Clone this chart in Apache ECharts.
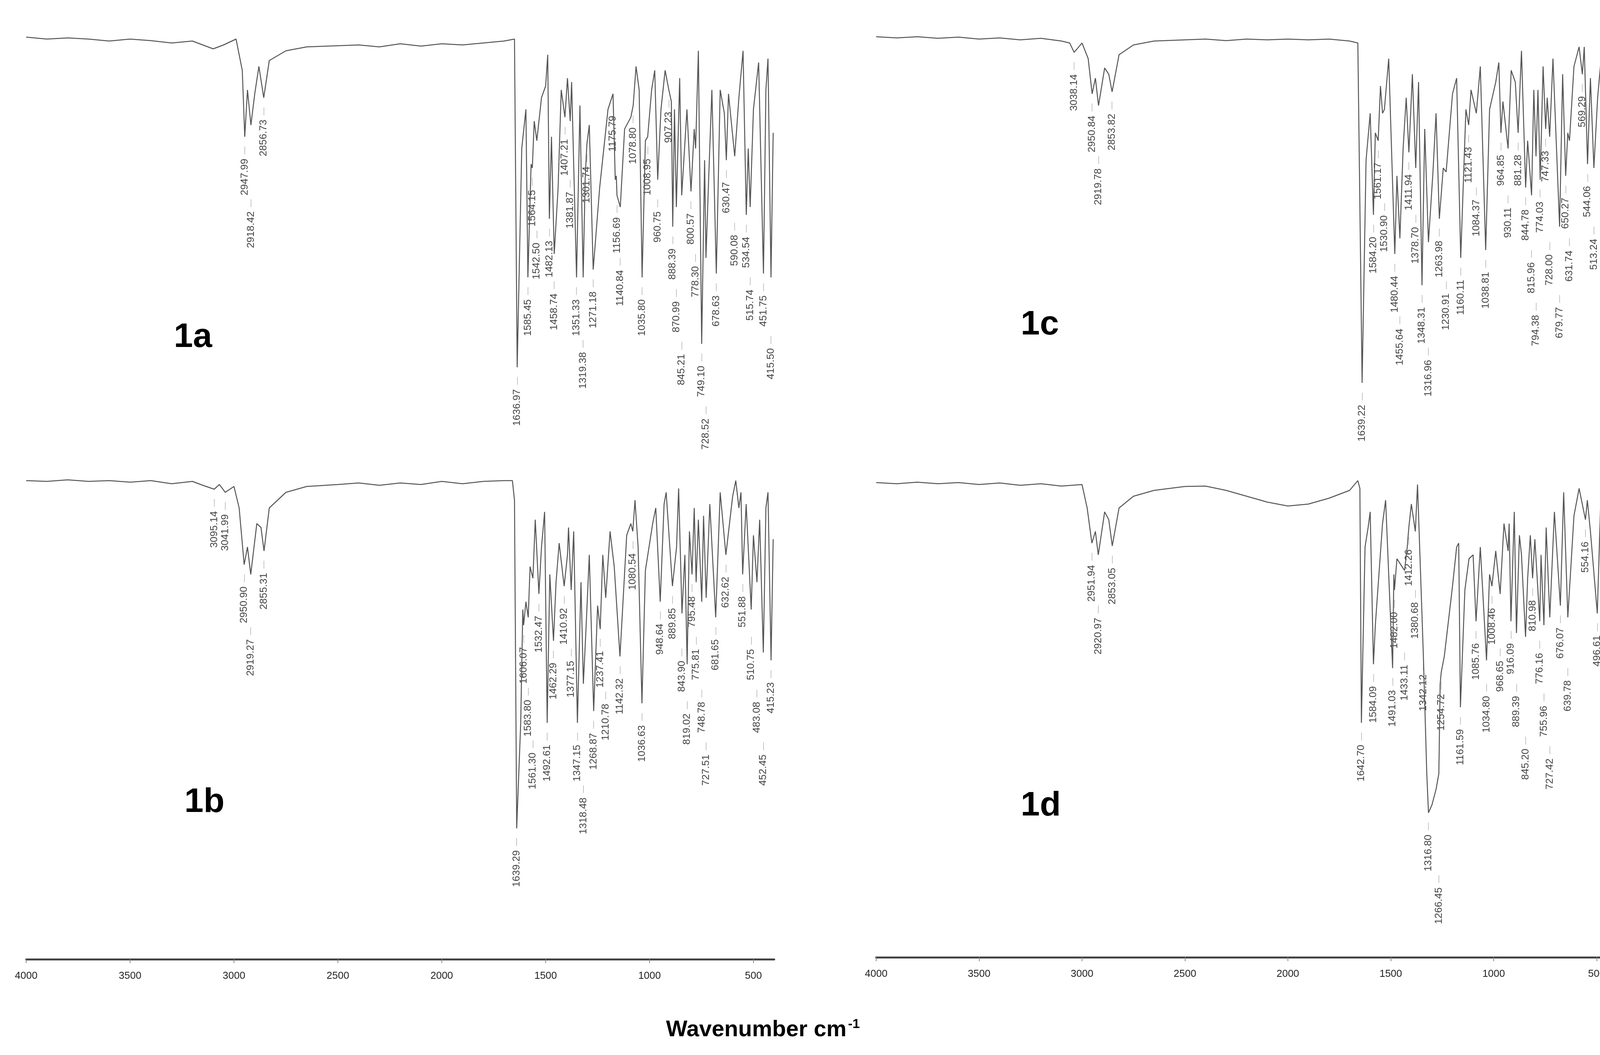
<!DOCTYPE html>
<html><head><meta charset="utf-8">
<script src="https://cdn.jsdelivr.net/npm/echarts@6/dist/echarts.min.js"></script>
<style>html,body{margin:0;padding:0;background:#fff}#c{width:4175px;height:2700px}</style>
</head><body><div id="c"></div>
<script>
// Tick labels of the wavenumber axes
const tickValues = [500, 1000, 1500, 2000, 2500, 3000, 3500, 4000];
const panelNames = ['1a', '1b', '1c', '1d'];

// Spectrum 1a: [wavenumber, transmittance-like %]
const spec1a = [[4000,98.5],[3900,98],[3800,98.3],[3700,98],[3600,97.5],[3500,98],[3400,97.6],[3300,97],[3200,97.5],[3150,96.5],[3100,95.5],[3050,96.5],[2990,98],[2960,90],[2947.99,73],[2935,85],[2918.42,76],[2900,84],[2880,91],[2856.73,83],[2830,92.5],[2750,95],[2650,96],[2500,96.3],[2400,96.5],[2300,96],[2200,96.8],[2100,96.2],[2000,96.8],[1900,96.5],[1800,97],[1700,97.5],[1650,98],[1636.97,14],[1615,70],[1595,80],[1585.45,37],[1570,66],[1564.15,65],[1555,77],[1542.5,72],[1520,83],[1500,86],[1490,94],[1482.13,52],[1472,73],[1458.74,43],[1440,60],[1425,85],[1407.21,78],[1395,88],[1381.87,77],[1375,87],[1351.33,37],[1335,81],[1319.38,37],[1310,62],[1301.74,71],[1290,76],[1271.18,39],[1240,60],[1200,80],[1175.79,84],[1165,62],[1160,63],[1156.69,58],[1140.84,55],[1120,75],[1090,78],[1078.8,81],[1065,91],[1050,85],[1035.8,37],[1020,72],[1008.95,73],[990,85],[975,90],[960.75,62],[945,80],[925,90],[907.23,85],[895,82],[888.39,50],[880,80],[870.99,55],[855,88],[845.21,58],[820,80],[800.57,59],[785,75],[778.3,70],[765,95],[749.1,20],[735,67],[728.52,42],[715,63],[700,85],[678.63,38],[660,85],[640,79],[630.47,67],[620,84],[590.08,68],[570,83],[550,95],[534.54,53],[525,70],[515.74,55],[500,80],[475,92],[451.75,38],[440,85],[430,93],[415.5,37],[405,74]];
const peaks1a = ['2947.99','2918.42','2856.73','1636.97','1585.45','1564.15','1542.50','1482.13','1458.74','1407.21','1381.87','1351.33','1319.38','1301.74','1271.18','1175.79','1156.69','1140.84','1078.80','1035.80','1008.95','960.75','907.23','888.39','870.99','845.21','800.57','778.30','749.10','728.52','678.63','630.47','590.08','534.54','515.74','451.75','415.50'];

// Spectrum 1b
const spec1b = [[4000,97],[3900,96.8],[3800,97.2],[3700,96.8],[3600,97],[3500,96.6],[3400,97],[3300,96.2],[3200,96.8],[3150,95.8],[3095.14,94.8],[3070,96],[3041.99,94],[3000,95.5],[2975,90],[2950.9,75.5],[2935,80],[2919.27,73],[2890,86],[2870,85],[2855.31,79],[2830,90],[2750,94],[2650,95.5],[2500,96],[2400,96.4],[2300,95.8],[2200,96.4],[2100,96],[2000,96.8],[1900,96.2],[1800,96.8],[1700,97],[1660,97],[1650,92],[1639.29,8],[1620,35],[1610,64],[1606.07,60],[1595,66],[1583.8,62],[1575,75],[1561.3,72],[1550,87],[1532.47,68],[1520,80],[1505,89],[1492.61,35],[1480,73],[1462.29,56],[1450,71],[1435,81],[1410.92,70],[1395,78],[1390,85],[1377.15,69],[1365,84],[1347.15,35],[1330,71],[1318.48,45],[1305,60],[1290,78],[1268.87,38],[1250,65],[1237.41,59],[1225,78],[1210.78,67],[1190,84],[1170,75],[1142.32,52],[1110,83],[1090,86],[1080.54,84],[1070,92],[1055,80],[1036.63,40],[1020,74],[985,86],[970,90],[948.64,66],[930,91],[920,94],[889.85,70],[870,80],[860,95],[843.9,63],[830,78],[819.02,50],[808,84],[795.48,73],[785,90],[775.81,71],[765,87],[748.78,66],[740,88],[727.51,67],[710,91],[681.65,62],[660,94],[632.62,78],[600,93],[585,97],[570,90],[560,94],[551.88,73],[535,91],[510.75,64],[500,83],[483.08,71],[470,87],[452.45,53],[440,90],[430,94],[415.23,51],[405,82]];
const peaks1b = ['3095.14','3041.99','2950.90','2919.27','2855.31','1639.29','1606.07','1583.80','1561.30','1532.47','1492.61','1462.29','1410.92','1377.15','1347.15','1318.48','1268.87','1237.41','1210.78','1142.32','1080.54','1036.63','948.64','889.85','843.90','819.02','795.48','775.81','748.78','727.51','681.65','632.62','551.88','510.75','483.08','452.45','415.23'];

// Spectrum 1c
const spec1c = [[4000,98.6],[3900,98.3],[3800,98.6],[3700,98.2],[3600,98.5],[3500,98],[3400,98.3],[3300,97.8],[3200,98.2],[3100,97.5],[3060,97],[3038.14,94.6],[3000,97],[2970,93],[2950.84,84],[2935,88],[2919.78,81],[2890,90.6],[2870,89],[2853.82,84.5],[2820,94],[2750,96.5],[2650,97.5],[2500,97.8],[2400,98],[2300,97.6],[2200,98],[2100,97.8],[2000,98],[1900,97.8],[1800,98],[1700,97.5],[1660,97],[1639.22,10],[1620,67],[1600,79],[1584.2,53],[1575,74],[1561.17,72],[1550,86],[1540,79],[1530.9,80],[1510,93],[1480.44,43],[1470,63],[1455.64,47],[1440,70],[1425,83],[1411.94,69],[1395,89],[1378.7,65],[1365,87],[1348.31,35],[1335,75],[1316.96,46],[1295,64],[1280,79],[1263.98,52],[1245,65],[1230.91,64],[1200,84],[1180,88],[1160.11,42],[1135,80],[1121.43,76],[1110,85],[1084.37,79],[1065,91],[1038.81,44],[1020,80],[990,87],[975,92],[964.85,74],[955,82],[930.11,70],[915,90],[895,87],[881.28,74],[865,95],[844.78,60],[835,72],[815.96,58],[805,85],[794.38,68],[785,85],[774.03,62],[760,91],[747.33,75],[740,83],[728,73],[712,93],[679.77,50],[665,89],[650.27,63],[640,74],[631.74,72],[610,91],[585,96],[569.29,89],[560,96],[544.06,66],[530,88],[513.24,65],[495,83],[475,95],[452.73,53],[440,95],[415.59,53],[408,65]];
const peaks1c = ['3038.14','2950.84','2919.78','2853.82','1639.22','1584.20','1561.17','1530.90','1480.44','1455.64','1411.94','1378.70','1348.31','1316.96','1263.98','1230.91','1160.11','1121.43','1084.37','1038.81','964.85','930.11','881.28','844.78','815.96','794.38','774.03','747.33','728.00','679.77','650.27','631.74','569.29','544.06','513.24','452.73','415.59'];

// Spectrum 1d
const spec1d = [[4000,96.5],[3900,96.2],[3800,96.6],[3700,96.2],[3600,96.5],[3500,96],[3400,96.4],[3300,95.8],[3200,96.2],[3100,95.6],[3000,96],[2975,90],[2951.94,81],[2935,84],[2920.97,78],[2890,89],[2870,87],[2853.05,80.3],[2820,90],[2750,93],[2650,94.5],[2500,95.5],[2400,95.6],[2300,94.5],[2200,93],[2100,91.5],[2000,90.5],[1900,91],[1800,92.5],[1700,94.5],[1660,97],[1650,95],[1642.7,35],[1625,80],[1610,85],[1600,89],[1584.09,50],[1575,60],[1540,86],[1525,92],[1491.03,49],[1485,73],[1482,69],[1470,77],[1433.11,74],[1420,80],[1412.26,85],[1400,91],[1380.68,84],[1370,96],[1342.12,53],[1325,22],[1316.8,12],[1300,14],[1280,18],[1266.45,22],[1260,45],[1254.72,48],[1240,52],[1200,70],[1180,80],[1170,81],[1161.59,39],[1140,69],[1120,77],[1100,78],[1085.76,61],[1065,80],[1034.8,51],[1020,73],[1008.46,70],[990,79],[968.65,68],[950,86],[930,79],[925,86],[916.09,61],[900,89],[889.39,58],[875,83],[865,78],[845.2,57],[835,72],[822,83],[810.98,72],[800,82],[776.16,61],[770,78],[755.96,60],[745,85],[727.42,62],[705,89],[676.07,65],[660,94],[639.78,62],[610,88],[585,95],[554.16,87],[545,92],[530,84],[496.61,63],[480,92],[452.83,62],[440,96],[416.08,62],[405,86]];
const peaks1d = ['2951.94','2920.97','2853.05','1642.70','1584.09','1491.03','1482.00','1433.11','1412.26','1380.68','1342.12','1316.80','1266.45','1254.72','1161.59','1085.76','1034.80','1008.46','968.65','916.09','889.39','845.20','810.98','776.16','755.96','727.42','676.07','639.78','554.16','496.61','452.83','416.08'];

const chart = echarts.init(document.getElementById('c'), null, {renderer: 'canvas'});
const FONT = '"Liberation Sans Narrow","Liberation Sans",Arial,sans-serif';

function valueAt(spec, wn) {
  let best = spec[0], d = 1e9;
  for (const p of spec) { const dd = Math.abs(p[0] - wn); if (dd < d) { d = dd; best = p; } }
  return best[1];
}
// Stagger labels downward so neighbouring peak labels do not collide
const LABEL_LEN = 12.5, LABEL_GAP = 52;
function placeLabels(spec, pk) {
  const placed = [];
  pk.forEach(p => {
    const wn = parseFloat(p);
    let y = valueAt(spec, wn) - 2.5;
    let moved = true;
    while (moved) {
      moved = false;
      for (const q of placed) {
        if (Math.abs(q[0] - wn) < LABEL_GAP && y > q[1] - LABEL_LEN - 0.5 && y - LABEL_LEN < q[1] + 0.5) {
          y = q[1] - LABEL_LEN - 1; moved = true;
        }
      }
    }
    placed.push([wn, y, p]);
  });
  return placed;
}

const grids = [
  {left: 67, width: 1915, top: 80, height: 1000},
  {left: 67, width: 1915, top: 1200, height: 1000},
  {left: 2243, width: 1897, top: 80, height: 1000},
  {left: 2243, width: 1897, top: 1200, height: 1000},
  {left: 67, width: 1915, top: 2454, height: 1},
  {left: 2243, width: 1897, top: 2449, height: 1}
];
const specs = [spec1a, spec1b, spec1c, spec1d];
const peaks = [peaks1a, peaks1b, peaks1c, peaks1d];

const xAxes = grids.map((g, i) => ({
  gridIndex: i, type: 'value', min: 400, max: 4000, inverse: true,
  show: i >= 4,
  axisLine: {show: true, lineStyle: {color: '#444', width: 5}},
  axisTick: {show: true, length: 10, lineStyle: {color: '#888', width: 2}, customValues: tickValues},
  axisLabel: {show: true, customValues: tickValues, formatter: v => String(v), color: '#222', fontSize: 26, fontFamily: FONT, margin: 30},
  splitLine: {show: false}
}));
const yAxes = grids.map((g, i) => ({gridIndex: i, type: 'value', min: -20, max: 100, show: false, splitLine: {show: false}}));
// keep the 0..100 band inside the same pixel span by extending the grid height
grids.slice(0, 4).forEach(g => { g.height = 1200; });

const series = [];
specs.forEach((s, i) => {
  series.push({type: 'line', xAxisIndex: i, yAxisIndex: i, data: s, showSymbol: false, symbol: 'none',
    lineStyle: {color: '#555', width: 2.5}, silent: true, animation: false});
  series.push({type: 'scatter', xAxisIndex: i, yAxisIndex: i, symbolSize: 0, animation: false, silent: true,
    data: placeLabels(s, peaks[i]),
    label: {show: true, rotate: 90, position: [0, 0], align: 'right', verticalAlign: 'middle',
      formatter: q => '{t|' + q.data[2] + '}{d|  —}',
      rich: {t: {fontSize: 26, color: '#111', fontFamily: FONT}, d: {fontSize: 20, color: '#999', fontFamily: FONT}}}
  });
});

const panelPos = [[495, 870], [522, 2060], [2663, 838], [2663, 2069]];
const graphic = panelNames.map((n, i) => ({type: 'text', left: panelPos[i][0] - 50, top: panelPos[i][1] - 50,
  style: {text: n, fontSize: 88, fontWeight: 'bold', fill: '#000', fontFamily: 'Liberation Sans, Arial, sans-serif'}}));
graphic.push({type: 'text', left: 1705, top: 2605, style: {text: '{a|Wavenumber cm}{b|-1}',
  rich: {a: {fontSize: 58, fontWeight: 'bold', fill: '#000', fontFamily: 'Liberation Sans, Arial'},
         b: {fontSize: 34, fontWeight: 'bold', fill: '#000', verticalAlign: 'top', padding: [0, 0, 28, 4], fontFamily: 'Liberation Sans, Arial'}}}});

chart.setOption({backgroundColor: '#fff', animation: false, grid: grids, xAxis: xAxes, yAxis: yAxes, series, graphic});
</script></body></html>
